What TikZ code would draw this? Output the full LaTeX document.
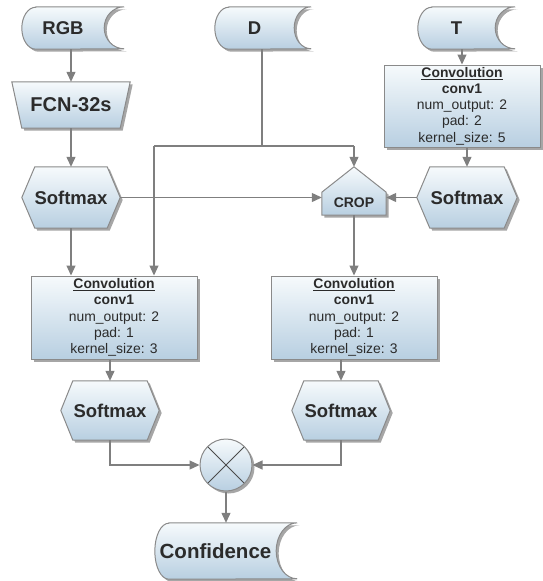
\documentclass[tikz,border=0pt]{standalone}
\usepackage{fontspec}
\setmainfont{Liberation Sans}
\usetikzlibrary{shadows,arrows.meta,calc}

\definecolor{edgegray}{HTML}{8A8A8A}
\definecolor{wiregray}{HTML}{7F7F7F}
\definecolor{shadetop}{HTML}{F6FAFC}
\definecolor{shadebot}{HTML}{B8CFE1}
\definecolor{ink}{HTML}{2B2B2B}

\pgfdeclarelayer{bg}
\pgfsetlayers{bg,main}

\tikzset{
  body/.style={draw=edgegray, line width=1pt, top color=shadetop, bottom color=shadebot,
    drop shadow={shadow xshift=2.5pt, shadow yshift=-2.5pt, fill=black, opacity=0.35}},
  holder/.style={inner sep=0pt, text=ink, font=\fontsize{18.5}{21}\selectfont\bfseries},
  convbox/.style={body, rectangle, inner sep=0pt, align=center, text=ink,
    font=\fontsize{13.9}{16.2}\selectfont},
  joiner/.style={body, circle, minimum size=52pt, inner sep=0pt,
    path picture={\draw[ink!85, line width=0.8pt]
      (path picture bounding box.north west) -- (path picture bounding box.south east)
      (path picture bounding box.north east) -- (path picture bounding box.south west);}},
  wire/.style={draw=wiregray, line width=1.2pt},
  flow/.style={wire, -{Triangle[length=10pt,width=9pt]}},
}

% outline of a data-store symbol around node #1: concave right side of depth #2, half height #3
\newcommand\storedata[3]{%
  \path[body] ([xshift=14pt]#1.north west) -- ([xshift=#2]#1.north east)
    arc[start angle=90, end angle=270, x radius=#2, y radius=#3]
    -- ([xshift=14pt]#1.south west)
    arc[start angle=270, end angle=90, x radius=14pt, y radius=#3] -- cycle;}
% hexagon around node #1 with side points of depth #2
\newcommand\hexagonal[2]{%
  \path[body] (#1.west) -- ([xshift=#2]#1.north west) -- ([xshift=-#2]#1.north east)
    -- (#1.east) -- ([xshift=-#2]#1.south east) -- ([xshift=#2]#1.south west) -- cycle;}
% upside-down trapezium around node #1, bottom inset #2
\newcommand\trapez[2]{%
  \path[body] (#1.north west) -- (#1.north east) -- ([xshift=-#2]#1.south east)
    -- ([xshift=#2]#1.south west) -- cycle;}
% pentagon pointing up around node #1, shoulders #2 above the base
\newcommand\pentagonal[2]{%
  \path[body] (#1.south west) -- ([yshift=#2]#1.south west) -- (#1.north)
    -- ([yshift=#2]#1.south east) -- (#1.south east) -- cycle;}

\begin{document}
\begin{tikzpicture}[x=1pt, y=-1pt]
\useasboundingbox (0,0) rectangle (542,581);

% inputs
\node[holder, minimum width=82pt, minimum height=42pt] (rgb) at (63,28) {RGB};
\node[holder, minimum width=79pt, minimum height=42pt] (d) at (254.5,28) {D};
\node[holder, minimum width=77pt, minimum height=42pt] (t) at (456.5,28) {T};

% left branch
\node[holder, font=\fontsize{20}{24}\selectfont\bfseries, minimum width=118pt,
  minimum height=46pt] (fcn) at (71,105) {FCN-32s};
\node[holder, minimum width=98pt, minimum height=61pt] (sml) at (71,197.5) {Softmax};
\node[convbox, minimum width=166pt, minimum height=83pt] (convl) at (114,317.5)
  {\underline{\textbf{Convolution}}\\ \textbf{conv1}\\ num\_output: 2\\ pad: 1\\ kernel\_size: 3};
\node[holder, minimum width=98pt, minimum height=59pt] (sbl) at (110,410.5) {Softmax};

% right branch
\node[convbox, minimum width=156pt, minimum height=82pt] (convt) at (462,106)
  {\underline{\textbf{Convolution}}\\ \textbf{conv1}\\ num\_output: 2\\ pad: 2\\ kernel\_size: 5};
\node[holder, minimum width=100pt, minimum height=61pt] (smr) at (467,197.5) {Softmax};
\node[holder, font=\fontsize{14}{16}\selectfont\bfseries, text width=64pt, align=center,
  text height=40.7pt, text depth=7.3pt] (crop) at (354,191) {CROP};
\node[convbox, minimum width=166pt, minimum height=83pt] (convr) at (354,317.5)
  {\underline{\textbf{Convolution}}\\ \textbf{conv1}\\ num\_output: 2\\ pad: 1\\ kernel\_size: 3};
\node[holder, minimum width=98pt, minimum height=59pt] (sbr) at (341,410.5) {Softmax};

% merge and output
\node[joiner] (mul) at (226,465) {};
\node[holder, font=\fontsize{20.5}{24}\selectfont\bfseries, minimum width=121pt,
  minimum height=56pt] (conf) at (215.5,551) {Confidence};

% shape outlines behind the labels
\begin{pgfonlayer}{bg}
  \storedata{rgb}{20pt}{21pt}
  \storedata{d}{17pt}{21pt}
  \storedata{t}{20pt}{21pt}
  \storedata{conf}{21pt}{28pt}
  \trapez{fcn}{10pt}
  \hexagonal{sml}{13pt}
  \hexagonal{smr}{13pt}
  \hexagonal{sbl}{12pt}
  \hexagonal{sbr}{12pt}
  \pentagonal{crop}{23pt}
\end{pgfonlayer}

% depth input fans out to both branches
\coordinate (dj) at (262,146);
\coordinate (dl) at (154,146);
\coordinate (dr) at (crop.north |- dj);

\draw[flow] (fcn.north |- rgb.south) -- (fcn.north);
\draw[flow] (fcn.south -| sml.north) -- (sml.north);
\draw[flow] (sml.south) -- (sml.south |- convl.north);
\draw[wire] (dj |- d.south) -- (dj);
\draw[wire] (dl) -- (dr);
\draw[flow] (dl) -- (dl |- convl.north);
\draw[flow] (dr) -- (crop.north);
\draw[flow] (convt.north |- t.south) -- (convt.north);
\draw[flow] (smr.north |- convt.south) -- (smr.north);
\draw[flow] (sml.east) -- (sml.east -| crop.west);
\draw[flow] (smr.west) -- (smr.west -| crop.east);
\draw[flow] (crop.south) -- (crop.south |- convr.north);
\draw[flow] (sbl.north |- convl.south) -- (sbl.north);
\draw[flow] (sbr.north |- convr.south) -- (sbr.north);
\draw[flow] (sbl.south) |- (mul.west);
\draw[flow] (sbr.south) |- (mul.east);
\draw[flow] (mul.south) -- (mul.south |- conf.north);
\end{tikzpicture}
\end{document}
